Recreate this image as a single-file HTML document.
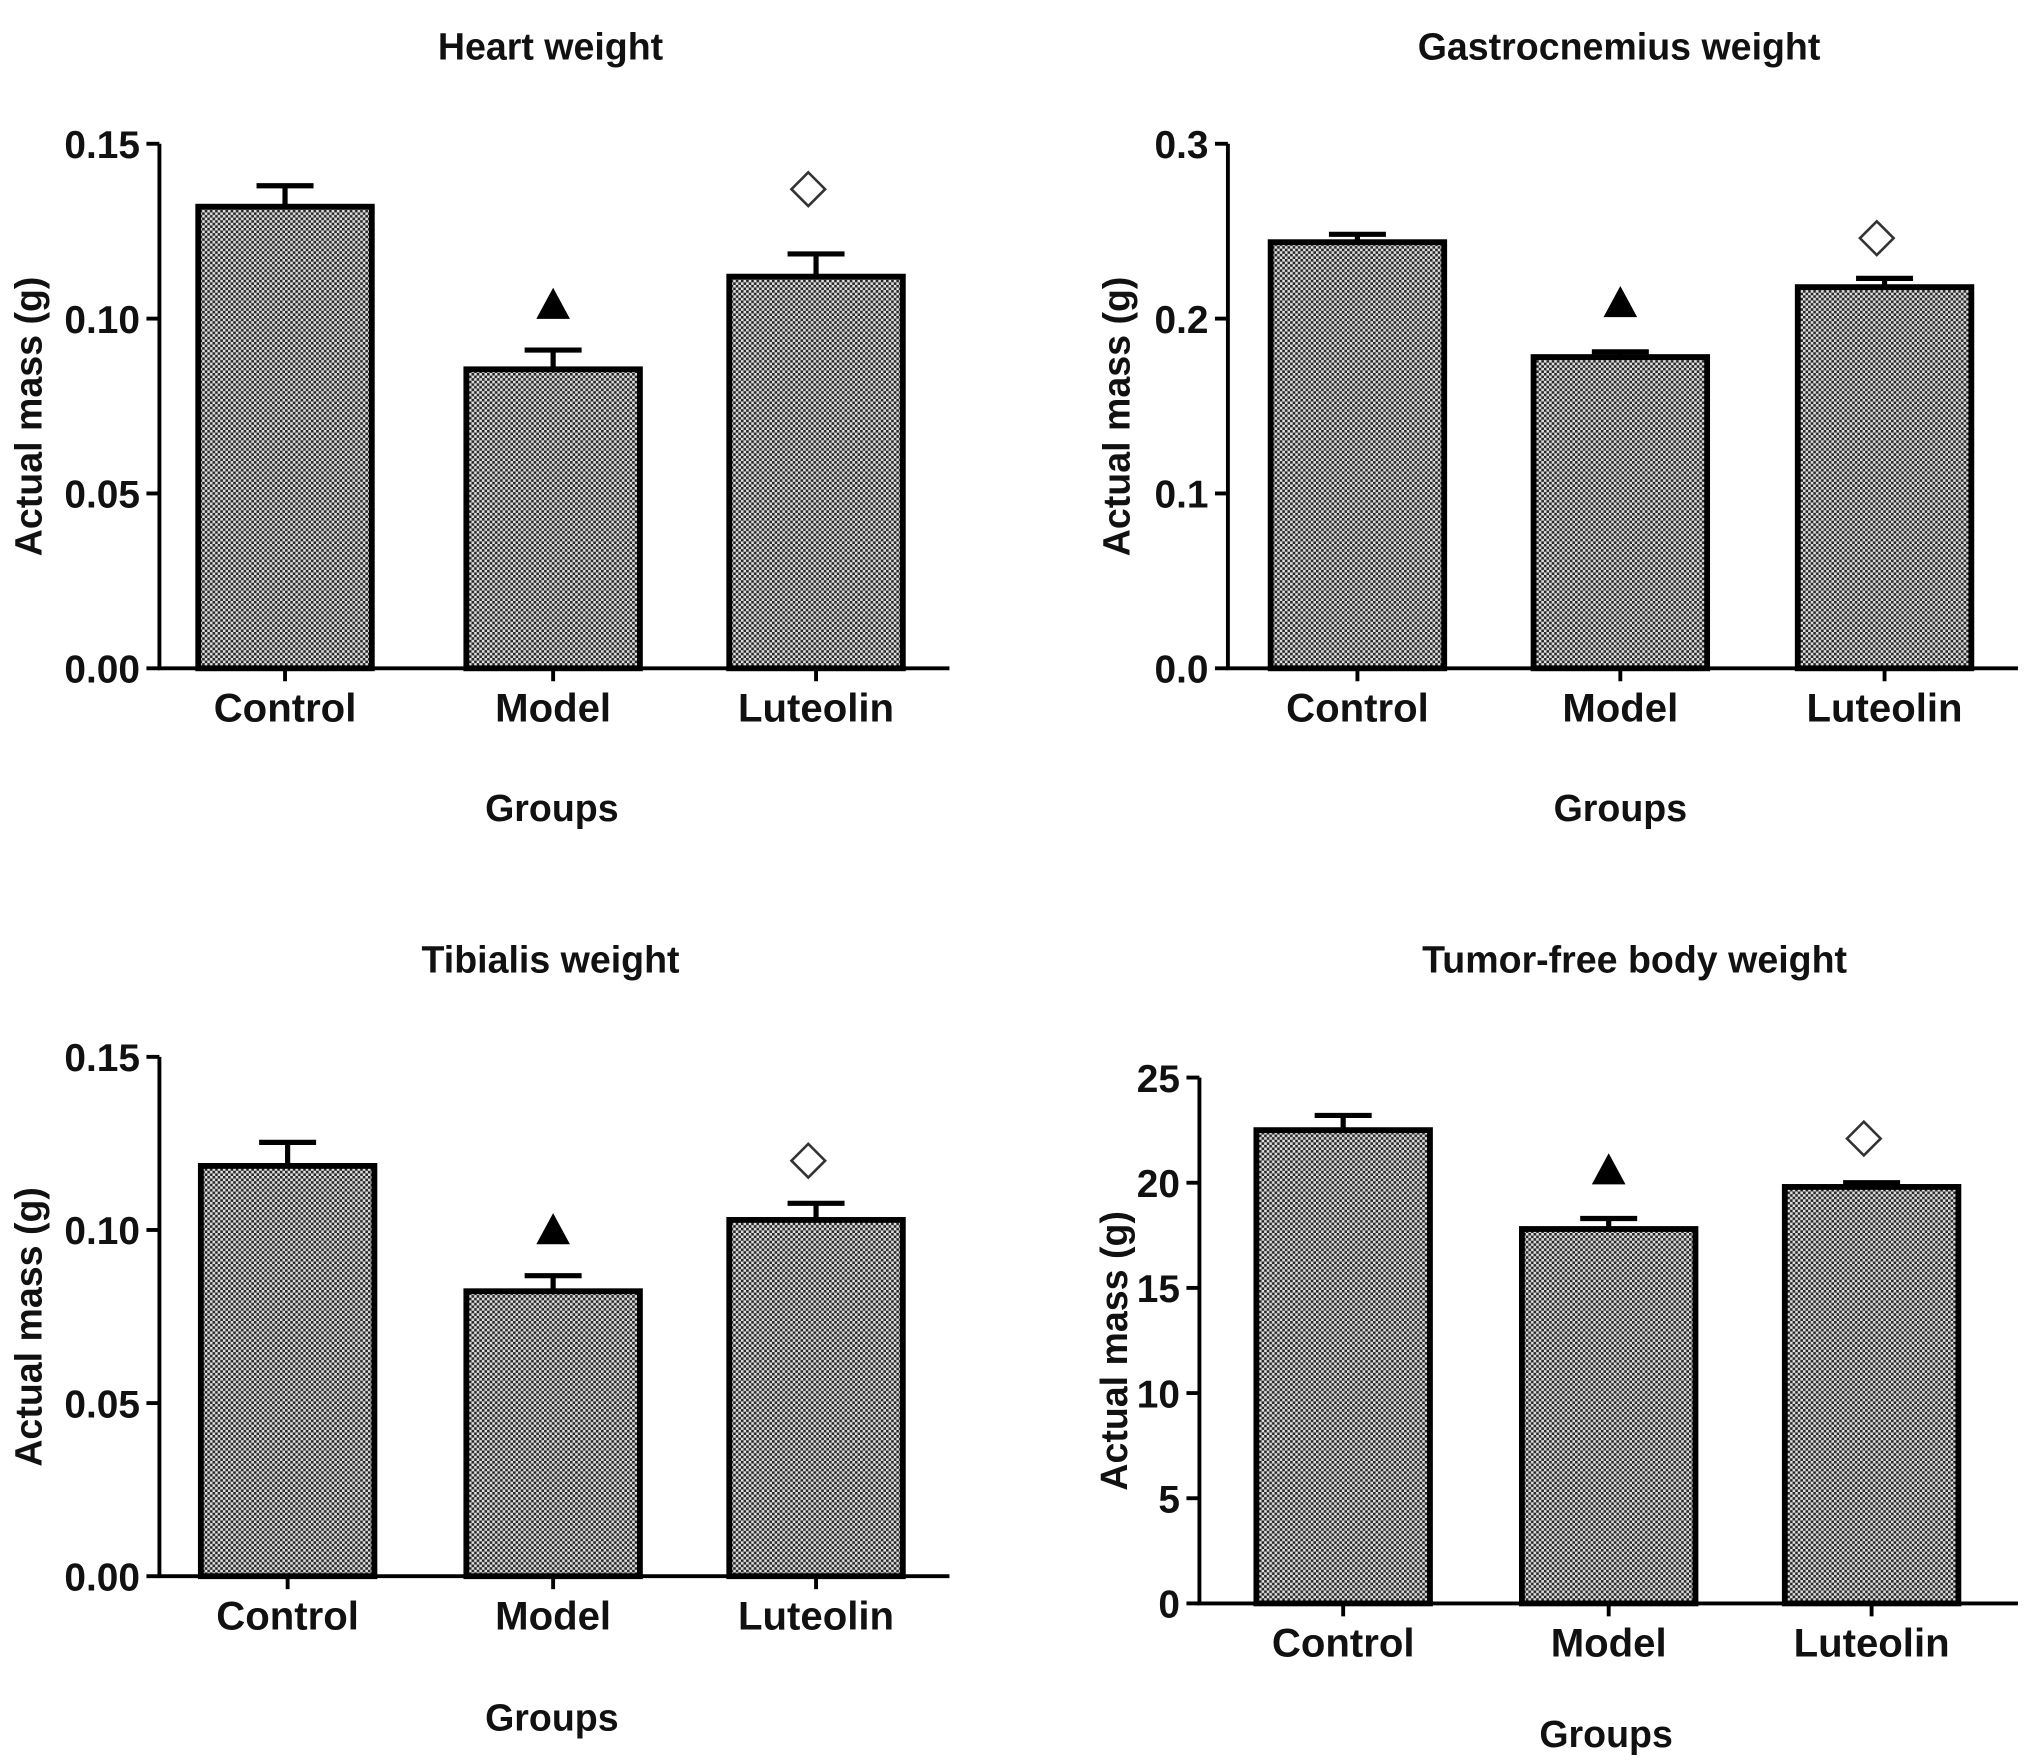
<!DOCTYPE html>
<html><head><meta charset="utf-8"><style>
html,body{margin:0;padding:0;background:#fff;}
svg{display:block;}
text{font-family:"Liberation Sans",Arial,sans-serif;font-weight:bold;fill:#111;}
</style></head><body>
<svg id="fig" width="2031" height="1764" viewBox="0 0 1568 1362" xmlns="http://www.w3.org/2000/svg">
<defs>
<pattern id="dots" width="4" height="4" patternUnits="userSpaceOnUse">
<rect width="4" height="4" fill="#e0e0e0"/>
<rect x="0" y="0" width="2" height="2" fill="#262626"/>
<rect x="2" y="2" width="2" height="2" fill="#262626"/>
</pattern>
</defs>
</svg>
<script>
const categories = ["Control","Model","Luteolin"];
const heartValues = [0.132, 0.0855, 0.112];
const heartErrors = [0.006, 0.0055, 0.0065];
const heartTicks = ["0.00","0.05","0.10","0.15"];
const gastroValues = [0.2437, 0.178, 0.218];
const gastroErrors = [0.0045, 0.003, 0.005];
const gastroTicks = ["0.0","0.1","0.2","0.3"];
const tibialisValues = [0.1185, 0.0823, 0.1029];
const tibialisErrors = [0.0068, 0.0045, 0.0048];
const tibialisTicks = ["0.00","0.05","0.10","0.15"];
const bodyValues = [22.5, 17.8, 19.8];
const bodyErrors = [0.7, 0.5, 0.2];
const bodyTicks = ["0","5","10","15","20","25"];
const triangleValues = [0.104, 0.209, 0.1, 20.6];
const diamondValues = [0.137, 0.246, 0.12, 22.1];

const svg = document.getElementById('fig');
const NS = 'http://www.w3.org/2000/svg';
function mk(tag, attrs, parent){const e=document.createElementNS(NS,tag);for(const k in attrs)e.setAttribute(k,attrs[k]);(parent||svg).appendChild(e);return e;}

const panels = [
 {key:'heart', title:'Heart weight', values:heartValues, errors:heartErrors, ticks:heartTicks, max:0.15, ax:123, y0:516, yTop:111, xEnd:733, centers:[220,427,630], titleX:425, titleY:46, catY:557, groupsY:634, ylabX:32, tri:triangleValues[0], dia:diamondValues[0]},
 {key:'gastrocnemius', title:'Gastrocnemius weight', values:gastroValues, errors:gastroErrors, ticks:gastroTicks, max:0.3, ax:948, y0:516, yTop:111, xEnd:1558, centers:[1048,1251,1455], titleX:1250, titleY:46, catY:557, groupsY:634, ylabX:872, tri:triangleValues[1], dia:diamondValues[1]},
 {key:'tibialis', title:'Tibialis weight', values:tibialisValues, errors:tibialisErrors, ticks:tibialisTicks, max:0.15, ax:123, y0:1217, yTop:816, xEnd:733, centers:[222,427,630], titleX:425, titleY:751, catY:1258, groupsY:1336, ylabX:32, tri:triangleValues[2], dia:diamondValues[2]},
 {key:'body', title:'Tumor-free body weight', values:bodyValues, errors:bodyErrors, ticks:bodyTicks, max:25, ax:926, y0:1238, yTop:832, xEnd:1558, centers:[1037,1242,1445], titleX:1262, titleY:751, catY:1279, groupsY:1349, ylabX:870, tri:triangleValues[3], dia:diamondValues[3]}
];

panels.forEach(p=>{
  const g = mk('g',{});
  
  
  const y = v => p.y0 - v/p.max*(p.y0-p.yTop);
  const t = mk('text',{x:p.titleX,y:p.titleY,'text-anchor':'middle','font-size':29},g);
  t.textContent = p.title;
  
  
  p.values.forEach((v,i)=>{
    const cx = p.centers[i], w=134;
    const e = p.errors[i];
    const eb = mk('path',{d:`M${cx} ${y(v)} V${y(v+e)} M${cx-22} ${y(v+e)} H${cx+22}`,stroke:'#000','stroke-width':4,fill:'none'},g);
    
    
    const r = mk('rect',{x:cx-w/2,y:y(v),width:w,height:p.y0-y(v),fill:'url(#dots)',stroke:'#000','stroke-width':4.5},g);
    
    
    const tk = mk('line',{x1:cx,x2:cx,y1:p.y0,y2:p.y0+10,stroke:'#000','stroke-width':3},g);
    
    
    const lbl = mk('text',{x:cx,y:p.catY,'text-anchor':'middle','font-size':31},g);
    lbl.textContent = categories[i];
    
    
  });
  const axes = mk('path',{d:`M${p.ax} ${p.yTop} V${p.y0} H${p.xEnd}`,stroke:'#000','stroke-width':3,fill:'none'},g);
  
  
  const n = p.ticks.length-1;
  p.ticks.forEach((lab,i)=>{
    const yy = y(p.max*i/n);
    const tl = mk('line',{x1:p.ax-10,x2:p.ax,y1:yy,y2:yy,stroke:'#000','stroke-width':3},g);
    
    
    const tt = mk('text',{x:p.ax-15,y:yy+11,'text-anchor':'end','font-size':30},g);
    tt.textContent = lab;
    
    
  });
  const yl = mk('text',{x:0,y:0,'text-anchor':'middle','font-size':29,transform:`translate(${p.ylabX},${(p.y0+p.yTop)/2+8}) rotate(-90)`},g);
  yl.textContent = 'Actual mass (g)';
  
  
  const gl = mk('text',{x:(p.ax+p.xEnd)/2-2,y:p.groupsY,'text-anchor':'middle','font-size':29},g);
  gl.textContent = 'Groups';
  
  
  const tx = p.centers[1], ty = y(p.tri);
  const tri = mk('polygon',{points:`${tx},${ty-13} ${tx-13},${ty+11} ${tx+13},${ty+11}`,fill:'#000'},g);
  
  
  const dx = p.centers[2]-6, dy = y(p.dia);
  const dia = mk('polygon',{points:`${dx},${dy-13} ${dx+13},${dy} ${dx},${dy+13} ${dx-13},${dy}`,fill:'#fff',stroke:'#333','stroke-width':2},g);
  
  
});
</script>
</body></html>
